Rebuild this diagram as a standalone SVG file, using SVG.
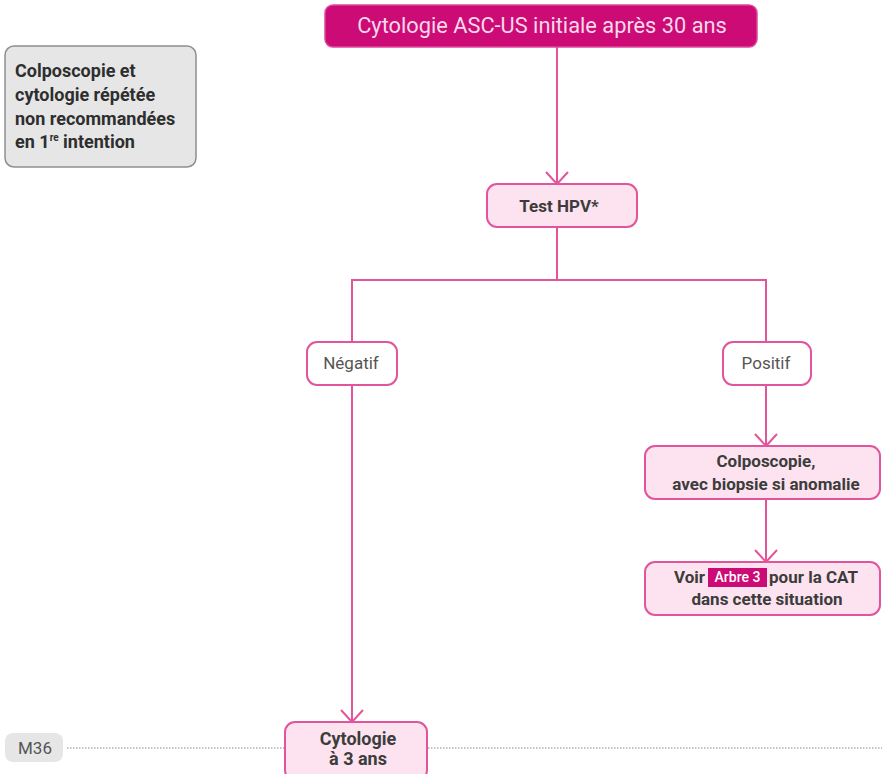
<svg xmlns="http://www.w3.org/2000/svg" width="882" height="774" viewBox="0 0 882 774">
<defs>
<style>
.box{fill:#fce3ef;stroke:#e2559c;stroke-width:2}
.wbox{fill:#ffffff;stroke:#e2559c;stroke-width:2}
.t{font-family:Roboto,"Liberation Sans",sans-serif;fill:#3c3c3c;text-anchor:middle}
.b{font-weight:bold}
.c{fill:none;stroke:#e2559c;stroke-width:2}
</style>
<marker id="arr" viewBox="0 0 14 24" refX="13" refY="12" markerWidth="14" markerHeight="24" markerUnits="userSpaceOnUse" orient="auto" overflow="visible">
<path d="M1,1 L13,12 L1,23" fill="none" stroke="#e2559c" stroke-width="2"/>
</marker>
</defs>
<rect width="882" height="774" fill="#ffffff"/>
<g id="connectors">
<line class="c" x1="557" y1="47" x2="557" y2="184" marker-end="url(#arr)"/>
<polyline class="c" points="557,227 557,280 352,280 352,342"/>
<polyline class="c" points="557,280 766,280 766,342"/>
<line class="c" x1="352" y1="385" x2="352" y2="722" marker-end="url(#arr)"/>
<line class="c" x1="766" y1="385" x2="766" y2="446" marker-end="url(#arr)"/>
<line class="c" x1="766" y1="499" x2="766" y2="562" marker-end="url(#arr)"/>
<line x1="67" y1="748" x2="285" y2="748" stroke="#b0b0b0" stroke-width="1.5" stroke-dasharray="1.5 1.5"/>
<line x1="428" y1="748" x2="882" y2="748" stroke="#b0b0b0" stroke-width="1.5" stroke-dasharray="1.5 1.5"/>
</g>
<g id="n-top">
<rect x="325" y="5" width="432" height="42" rx="8" fill="#cc0b76" stroke="#e0479a" stroke-width="1.5"/>
<text class="t" x="542" y="33" font-size="21.8" style="fill:#f9d8ea">Cytologie ASC-US initiale après 30 ans</text>
</g>
<g id="n-note">
<rect x="5" y="46" width="191" height="121" rx="9" fill="#e6e6e6" stroke="#8f8f8f" stroke-width="1.5"/>
<text class="t b" font-size="18" style="text-anchor:start;fill:#2e2e2e">
<tspan x="15" y="77">Colposcopie et</tspan>
<tspan x="15" y="101">cytologie répétée</tspan>
<tspan x="15" y="125">non recommandées</tspan>
<tspan x="15" y="148">en 1<tspan font-size="10" dy="-7">re</tspan><tspan dy="7"> intention</tspan></tspan>
</text>
</g>
<g id="n-hpv">
<rect class="box" x="487" y="184" width="150" height="43" rx="10"/>
<text class="t b" x="559" y="212" font-size="17">Test HPV*</text>
</g>
<g id="n-neg">
<rect class="wbox" x="307" y="342" width="90" height="43" rx="10"/>
<text class="t" x="351" y="369" font-size="17" style="fill:#555">Négatif</text>
</g>
<g id="n-pos">
<rect class="wbox" x="723" y="342" width="88" height="43" rx="10"/>
<text class="t" x="766" y="369" font-size="17" style="fill:#555">Positif</text>
</g>
<g id="n-colpo">
<rect class="box" x="645" y="446" width="235" height="53" rx="10"/>
<text class="t b" font-size="17"><tspan x="766" y="467">Colposcopie,</tspan><tspan x="766" y="490">avec biopsie si anomalie</tspan></text>
</g>
<g id="n-voir">
<rect class="box" x="645" y="562" width="235" height="53" rx="10"/>
<rect x="708" y="568" width="59" height="19" fill="#cc0b76"/>
<text class="t b" font-size="17"><tspan x="705" y="583" style="text-anchor:end">Voir</tspan><tspan x="737.5" y="582" font-size="14" font-weight="500" style="fill:#ffffff">Arbre 3</tspan><tspan x="769" y="583" style="text-anchor:start">pour la CAT</tspan><tspan x="767" y="605">dans cette situation</tspan></text>
</g>
<g id="n-cyto">
<rect class="box" x="285" y="722" width="142" height="58" rx="10"/>
<text class="t b" font-size="18"><tspan x="358" y="745">Cytologie</tspan><tspan x="358" y="765">à 3 ans</tspan></text>
</g>
<g id="n-m36">
<rect x="5" y="733" width="58" height="29" rx="8" fill="#e6e6e6"/>
<text class="t" x="35" y="754" font-size="17" style="fill:#555">M36</text>
</g>
</svg>
